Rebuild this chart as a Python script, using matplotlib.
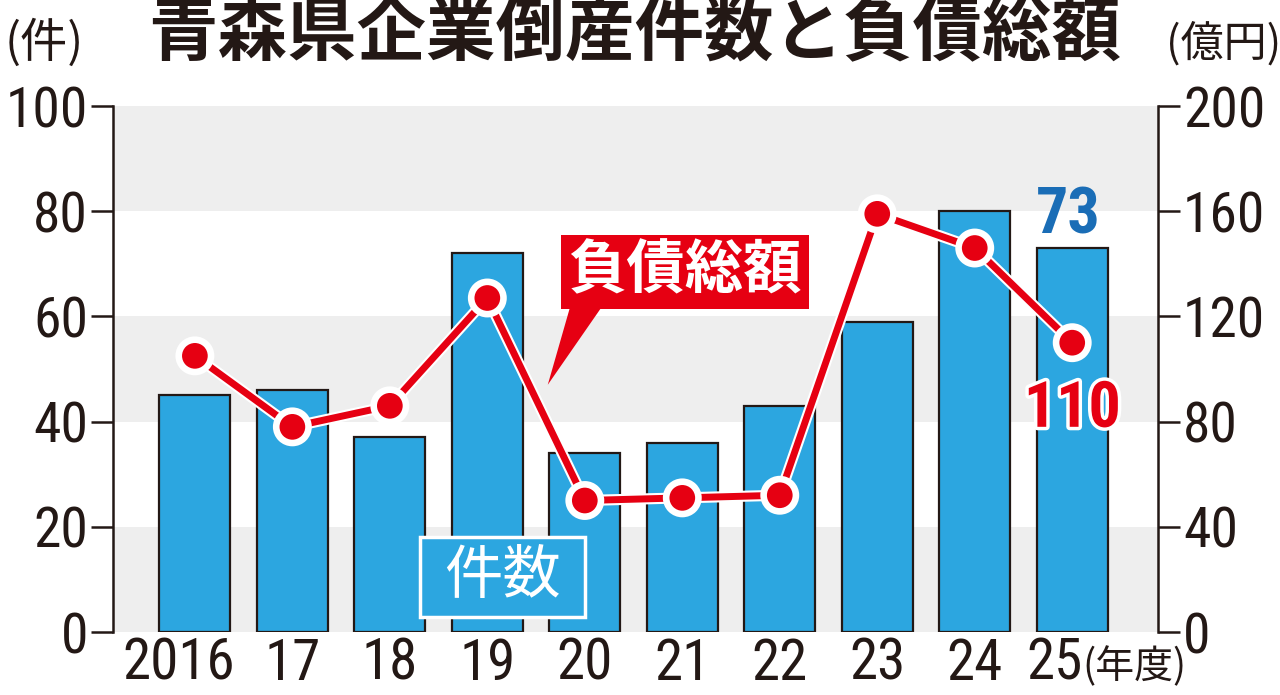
import matplotlib
matplotlib.use("Agg")
import matplotlib.pyplot as plt
import matplotlib.patheffects as pe
from matplotlib.patches import Polygon, Rectangle
from matplotlib.transforms import offset_copy
from matplotlib import font_manager as fm

# ---- data ----
years = ["2016", "17", "18", "19", "20", "21", "22", "23", "24", "25"]
counts = [45, 46, 37, 72, 34, 36, 43, 59, 80, 73]          # 件数 (件)
debt = [105, 78, 86, 127, 50, 51, 52, 159, 146, 110]        # 負債総額 (億円)
left_ticks = [0, 20, 40, 60, 80, 100]
right_ticks = [0, 40, 80, 120, 160, 200]

title = "青森県企業倒産件数と負債総額"
BLUE = "#2ca6e0"
RED = "#e60012"
DARK = "#231815"
GRAY = "#eeeeee"

available = set(f.name for f in fm.fontManager.ttflist)
narrow_candidates = ["Roboto Condensed", "Archivo Narrow", "PT Sans Narrow",
                     "IBM Plex Sans Condensed", "Fira Sans Condensed",
                     "Barlow Condensed", "Encode Sans Condensed", "Asap Condensed",
                     "Saira Condensed", "Liberation Sans Narrow", "Arial Narrow",
                     "Pragati Narrow", "Sofia Sans Condensed"]
narrow = next((n for n in narrow_candidates if n in available), "DejaVu Sans")
NUM = [narrow, "DejaVu Sans"]
JP = ["Noto Sans CJK JP", "DejaVu Sans"]

fig = plt.figure(figsize=(12.8, 6.95), dpi=100)
fig.patch.set_facecolor("white")
ax = fig.add_axes([113 / 1280, 63 / 695, (1158 - 113) / 1280, (632 - 106) / 695])
x = list(range(len(years)))
ax.set_xlim(-0.84, 9.88)
ax.set_ylim(0, 100)

# background bands
for lo in range(0, 100, 40):
    ax.axhspan(lo, lo + 20, color=GRAY, zorder=0, lw=0)

ax.bar(x, counts, width=0.73, color=BLUE, edgecolor=DARK, linewidth=1.6, zorder=2)

for s in ["top", "bottom", "right"]:
    ax.spines[s].set_visible(False)
ax.spines["left"].set_color(DARK)
ax.spines["left"].set_linewidth(1.8)
ax.set_yticks(left_ticks)
ax.set_yticklabels([str(v) for v in left_ticks], fontsize=40, family=NUM, color=DARK)
ax.tick_params(axis="y", length=16, width=1.8, color=DARK, pad=2)
ax.set_xticks([])

# x labels (baseline placed so the whole text box stays inside the figure)
base_y = -0.091
for i, lab in enumerate(years):
    dx = 0
    if i == 0:
        dx = -12
    if i == len(years) - 1:
        dx = -13
    tr = offset_copy(ax.get_xaxis_transform(), fig=fig, x=dx, y=0, units="points")
    ax.text(i, base_y, lab, transform=tr, ha="center", va="baseline", fontsize=41,
            family=NUM, color=DARK)
tr = offset_copy(ax.get_xaxis_transform(), fig=fig, x=7, y=0, units="points")
ax.text(len(years) - 1, base_y + 0.004, "(年度)", transform=tr, ha="left", va="baseline",
        fontsize=28, family=JP, color=DARK)

# right axis
ax2 = ax.twinx()
ax2.set_ylim(0, 200)
for s in ["top", "bottom", "left"]:
    ax2.spines[s].set_visible(False)
ax2.spines["right"].set_color(DARK)
ax2.spines["right"].set_linewidth(1.8)
ax2.set_yticks(right_ticks)
ax2.set_yticklabels([str(v) for v in right_ticks], fontsize=40, family=NUM, color=DARK)
ax2.tick_params(axis="y", length=16, width=1.8, color=DARK, pad=2)

ax2.plot(x, debt, color=RED, lw=5, marker="o", markersize=20,
         markerfacecolor=RED, markeredgecolor="white", markeredgewidth=1.5,
         path_effects=[pe.Stroke(linewidth=8, foreground="white"), pe.Normal()],
         zorder=5)

# value labels
ax.annotate(str(counts[-1]), xy=(x[-1], counts[-1]), xytext=(-3, 1),
            textcoords="offset points", ha="center", va="bottom", fontsize=46,
            family=NUM, color="#1a6db6", fontweight="bold", zorder=6)
ax2.annotate(str(debt[-1]), xy=(x[-1], debt[-1]), xytext=(0, -26),
             textcoords="offset points", ha="center", va="top", fontsize=46,
             family=NUM, color=RED, fontweight="bold", zorder=6,
             path_effects=[pe.withStroke(linewidth=5, foreground="white")])

# legend-like callouts
ax.add_patch(Rectangle((2.31, 2.85), 1.69, 15.2, facecolor=BLUE, edgecolor="white",
                       linewidth=2.5, zorder=6))
ax.text(3.16, 10.6, "件数", ha="center", va="center", fontsize=42, family=JP,
        color="white", zorder=7)

tri = Polygon([(3.86, 125), (4.2, 125), (3.62, 94)], closed=True,
              facecolor=RED, edgecolor="none", zorder=6)
ax2.add_patch(tri)
ax2.text(5.03, 137, "負債総額", ha="center", va="center", fontsize=42, family=JP,
         color="white", fontweight="bold", zorder=7,
         bbox=dict(boxstyle="square,pad=0.12", facecolor=RED, edgecolor="none"))

# titles and units
fig.text(635 / 1280, 1 - 35 / 695, title, ha="center", va="center", fontsize=50,
         family=JP, fontweight="bold", color=DARK)
fig.text(44 / 1280, 1 - 44 / 695, "(件)", ha="center", va="center", fontsize=34,
         family=JP, color=DARK)
fig.text(1224 / 1280, 1 - 44 / 695, "(億円)", ha="center", va="center", fontsize=31,
         family=JP, color=DARK)

fig.savefig("out.png", dpi=100, facecolor="white")
